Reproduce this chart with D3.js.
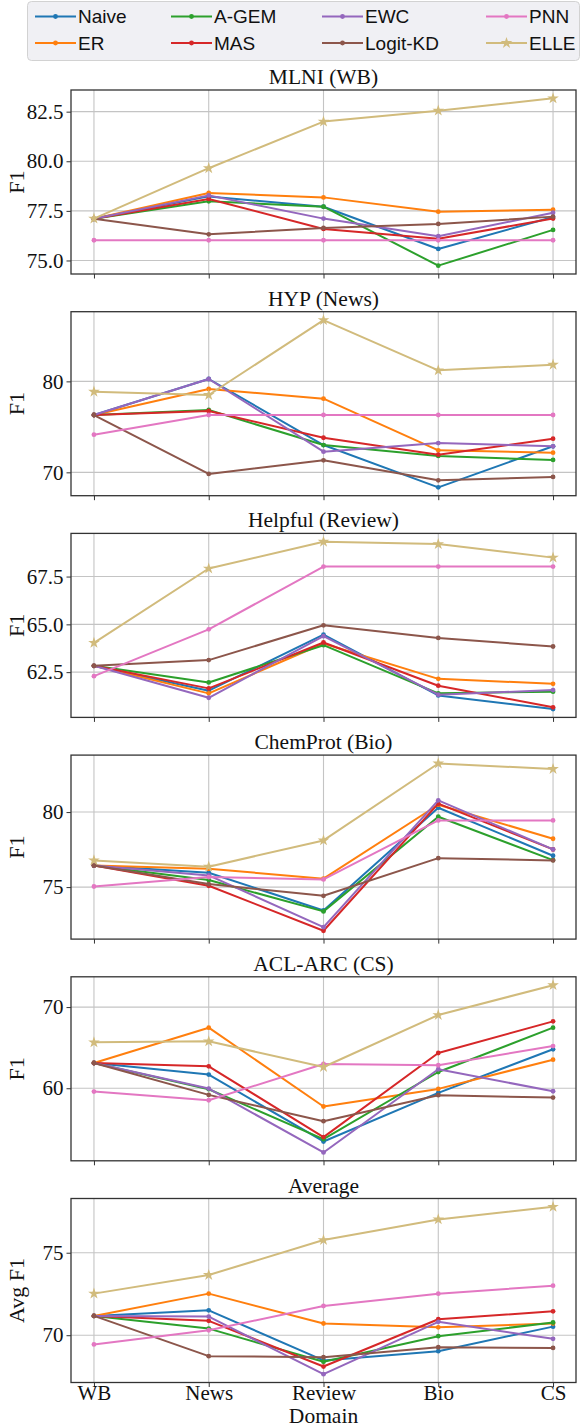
<!DOCTYPE html>
<html>
<head>
<meta charset="utf-8">
<script src="https://cdn.jsdelivr.net/npm/d3@7"></script>
<style>
  html, body { margin: 0; padding: 0; background: #ffffff; }
  svg { display: block; }
</style>
</head>
<body>
<div id="chart"></div>
<script>
// ---------------- data ----------------
const domains = ["WB", "News", "Review", "Bio", "CS"];
const panelTitles = ["MLNI (WB)", "HYP (News)", "Helpful (Review)", "ChemProt (Bio)", "ACL-ARC (CS)", "Average"];
const yLabels = ["F1", "F1", "F1", "F1", "F1", "Avg F1"];
const yTicks = [
  [75, 77.5, 80, 82.5],
  [70, 80],
  [62.5, 65, 67.5],
  [75, 80],
  [60, 70],
  [70, 75]
];
const yTickFormats = [".1f", "d", ".1f", "d", "d", "d"];

const methods = ["Naive", "ER", "A-GEM", "MAS", "EWC", "Logit-KD", "PNN", "ELLE"];
const colors = ["#1f77b4", "#ff7f0e", "#2ca02c", "#d62728", "#9467bd", "#8c564b", "#e377c2", "#d1bb7c"];

// each row: one panel (MLNI, HYP, Helpful, ChemProt, ACL-ARC, Average), values over domains
const naive = [
  [77.10, 78.23, 77.71, 75.58, 77.19],
  [76.30, 80.26, 73.00, 68.35, 72.86],
  [62.83, 61.53, 64.46, 61.28, 60.57],
  [76.44, 75.96, 73.44, 80.29, 77.09],
  [63.11, 61.68, 53.44, 59.43, 64.80],
  [71.17, 71.51, 68.47, 69.03, 70.52]
];
const er = [
  [77.10, 78.40, 78.18, 77.46, 77.56],
  [76.30, 79.16, 78.10, 72.42, 72.16],
  [62.83, 61.39, 64.00, 62.15, 61.89],
  [76.44, 76.22, 75.56, 80.49, 78.22],
  [63.11, 67.46, 57.75, 59.92, 63.52],
  [71.17, 72.52, 70.71, 70.48, 70.71]
];
const agem = [
  [77.10, 77.98, 77.71, 74.74, 76.54],
  [76.30, 76.85, 73.00, 71.80, 71.36],
  [62.83, 61.96, 63.91, 61.39, 61.48],
  [76.44, 75.47, 73.38, 79.69, 76.80],
  [63.11, 59.88, 53.73, 62.00, 67.46],
  [71.17, 70.40, 68.39, 69.94, 70.77]
];
const mas = [
  [77.10, 78.10, 76.59, 76.10, 77.11],
  [76.30, 76.74, 73.80, 71.94, 73.70],
  [62.83, 61.65, 64.05, 61.79, 60.66],
  [76.44, 75.09, 72.09, 80.56, 77.51],
  [63.11, 62.70, 53.98, 64.34, 68.24],
  [71.17, 70.87, 68.10, 70.97, 71.45]
];
const ewc = [
  [77.10, 78.28, 77.11, 76.22, 77.41],
  [76.30, 80.26, 72.27, 73.22, 72.86],
  [62.83, 61.16, 64.38, 61.32, 61.56],
  [76.44, 75.78, 72.33, 80.78, 77.51],
  [63.11, 59.96, 52.09, 62.34, 59.63],
  [71.17, 71.13, 67.64, 70.81, 69.78]
];
const logitkd = [
  [77.10, 76.32, 76.64, 76.84, 77.21],
  [76.30, 69.82, 71.32, 69.12, 69.49],
  [62.83, 63.13, 64.95, 64.29, 63.84],
  [76.44, 75.20, 74.42, 76.93, 76.78],
  [63.11, 59.18, 55.94, 59.14, 58.85],
  [71.17, 68.73, 68.67, 69.27, 69.23]
];
const pnn = [
  [76.02, 76.02, 76.02, 76.02, 76.02],
  [74.14, 76.30, 76.30, 76.30, 76.30],
  [62.29, 64.74, 68.02, 68.02, 68.02],
  [75.04, 75.67, 75.51, 79.44, 79.44],
  [59.59, 58.52, 62.99, 62.83, 65.20],
  [69.44, 70.30, 71.77, 72.52, 73.00]
];
const elle = [
  [77.11, 79.65, 82.00, 82.55, 83.17],
  [78.86, 78.50, 86.74, 81.21, 81.83],
  [64.03, 67.92, 69.32, 69.20, 68.49],
  [76.78, 76.36, 78.11, 83.24, 82.87],
  [65.66, 65.78, 62.62, 69.02, 72.70],
  [72.52, 73.65, 75.77, 77.02, 77.78]
];
const seriesData = [naive, er, agem, mas, ewc, logitkd, pnn, elle];

// ---------------- layout ----------------
const W = 581, H = 1428;
const plotLeft = 71, plotRight = 576;
const panelTop0 = 90, panelStep = 221.7, panelH = 184;

const svg = d3.select("#chart").append("svg").attr("width", W).attr("height", H);

const serif = "'Liberation Serif', 'Times New Roman', serif";
const sans = "'Liberation Sans', Arial, sans-serif";

// matplotlib margins: 5% of the data span on each side
const xSpan = (plotRight - plotLeft) / 1.1;
const x = d3.scalePoint().domain(domains)
  .range([plotLeft + 0.05 * xSpan, plotRight - 0.05 * xSpan]).padding(0);

const star = d3.symbol().type(d3.symbolStar).size(42);

panelTitles.forEach((title, pi) => {
  const top = panelTop0 + pi * panelStep;
  const bottom = top + panelH;
  const all = seriesData.flatMap(s => s[pi]);
  const mn = d3.min(all), mx = d3.max(all), pad = (mx - mn) * 0.05;
  const y = d3.scaleLinear().domain([mn - pad, mx + pad]).range([bottom, top]);

  const g = svg.append("g");

  // grid
  g.append("g").selectAll("line").data(domains).join("line")
    .attr("x1", d => x(d)).attr("x2", d => x(d))
    .attr("y1", top).attr("y2", bottom)
    .attr("stroke", "#c4c4c4").attr("stroke-width", 1.1);
  g.append("g").selectAll("line").data(yTicks[pi]).join("line")
    .attr("x1", plotLeft).attr("x2", plotRight)
    .attr("y1", d => y(d)).attr("y2", d => y(d))
    .attr("stroke", "#c4c4c4").attr("stroke-width", 1.1);

  // axes
  const yAxis = d3.axisLeft(y).tickValues(yTicks[pi]).tickFormat(d3.format(yTickFormats[pi]))
    .tickSizeInner(4.5).tickSizeOuter(0).tickPadding(3);
  const ya = g.append("g").attr("transform", `translate(${plotLeft},0)`).call(yAxis)
    .attr("font-family", serif).attr("font-size", 21);
  ya.select(".domain").remove();
  ya.selectAll(".tick line").attr("stroke", "#333").attr("stroke-width", 1);
  ya.selectAll(".tick text").attr("font-family", serif).attr("font-size", 21).attr("fill", "#111");

  const xAxis = d3.axisBottom(x).tickSizeInner(4.5).tickSizeOuter(0).tickPadding(4);
  const xa = g.append("g").attr("transform", `translate(0,${bottom})`).call(xAxis)
    .attr("font-family", serif).attr("font-size", 21);
  xa.select(".domain").remove();
  xa.selectAll(".tick line").attr("stroke", "#333").attr("stroke-width", 1);
  if (pi === panelTitles.length - 1) {
    xa.selectAll(".tick text").attr("font-family", serif).attr("font-size", 21).attr("fill", "#111")
      .attr("dy", "0.42em");
  } else {
    xa.selectAll(".tick text").remove();
  }

  // frame
  g.append("rect").attr("x", plotLeft).attr("y", top)
    .attr("width", plotRight - plotLeft).attr("height", panelH)
    .attr("fill", "none").attr("stroke", "#333").attr("stroke-width", 1.3);

  // title
  g.append("text").attr("x", (plotLeft + plotRight) / 2).attr("y", top - 6)
    .attr("text-anchor", "middle").attr("font-family", serif).attr("font-size", 21.5)
    .attr("fill", "#111").text(title);

  // y label
  g.append("text")
    .attr("transform", `translate(${24},${(top + bottom) / 2}) rotate(-90)`)
    .attr("text-anchor", "middle").attr("font-family", serif).attr("font-size", 22)
    .attr("fill", "#111").text(yLabels[pi]);

  // series
  const line = d3.line().x((d, i) => x(domains[i])).y(d => y(d));
  seriesData.forEach((s, si) => {
    const vals = s[pi];
    g.append("path").datum(vals).attr("d", line)
      .attr("fill", "none").attr("stroke", colors[si]).attr("stroke-width", 2)
      .attr("stroke-linejoin", "round");
    if (methods[si] === "ELLE") {
      g.append("g").selectAll("path").data(vals).join("path")
        .attr("d", star)
        .attr("transform", (d, i) => `translate(${x(domains[i])},${y(d)})`)
        .attr("fill", colors[si]);
    } else {
      g.append("g").selectAll("circle").data(vals).join("circle")
        .attr("cx", (d, i) => x(domains[i])).attr("cy", d => y(d))
        .attr("r", 2.4).attr("fill", colors[si]);
    }
  });
});

// x label
svg.append("text").attr("x", (plotLeft + plotRight) / 2).attr("y", 1423)
  .attr("text-anchor", "middle").attr("font-family", serif).attr("font-size", 21.5)
  .attr("fill", "#111").text("Domain");

// ---------------- legend ----------------
const legend = svg.append("g");
legend.append("rect").attr("x", 27.5).attr("y", 1.5).attr("width", 552).attr("height", 59)
  .attr("rx", 4).attr("fill", "#f0f0f4").attr("stroke", "#d2d2d2").attr("stroke-width", 1);
const colX = [35, 171, 322, 486];
const rowY = [16.5, 43];
methods.forEach((m, i) => {
  const col = Math.floor(i / 2), row = i % 2;
  const lx = colX[col], ly = rowY[row];
  legend.append("line").attr("x1", lx).attr("x2", lx + 41).attr("y1", ly).attr("y2", ly)
    .attr("stroke", colors[i]).attr("stroke-width", 2);
  if (m === "ELLE") {
    legend.append("path").attr("d", star).attr("transform", `translate(${lx + 20.5},${ly})`).attr("fill", colors[i]);
  } else {
    legend.append("circle").attr("cx", lx + 20.5).attr("cy", ly).attr("r", 2.4).attr("fill", colors[i]);
  }
  legend.append("text").attr("x", lx + 43).attr("y", ly).attr("dy", "0.35em")
    .attr("font-family", sans).attr("font-size", 19).attr("fill", "#111").text(m);
});
</script>
</body>
</html>
